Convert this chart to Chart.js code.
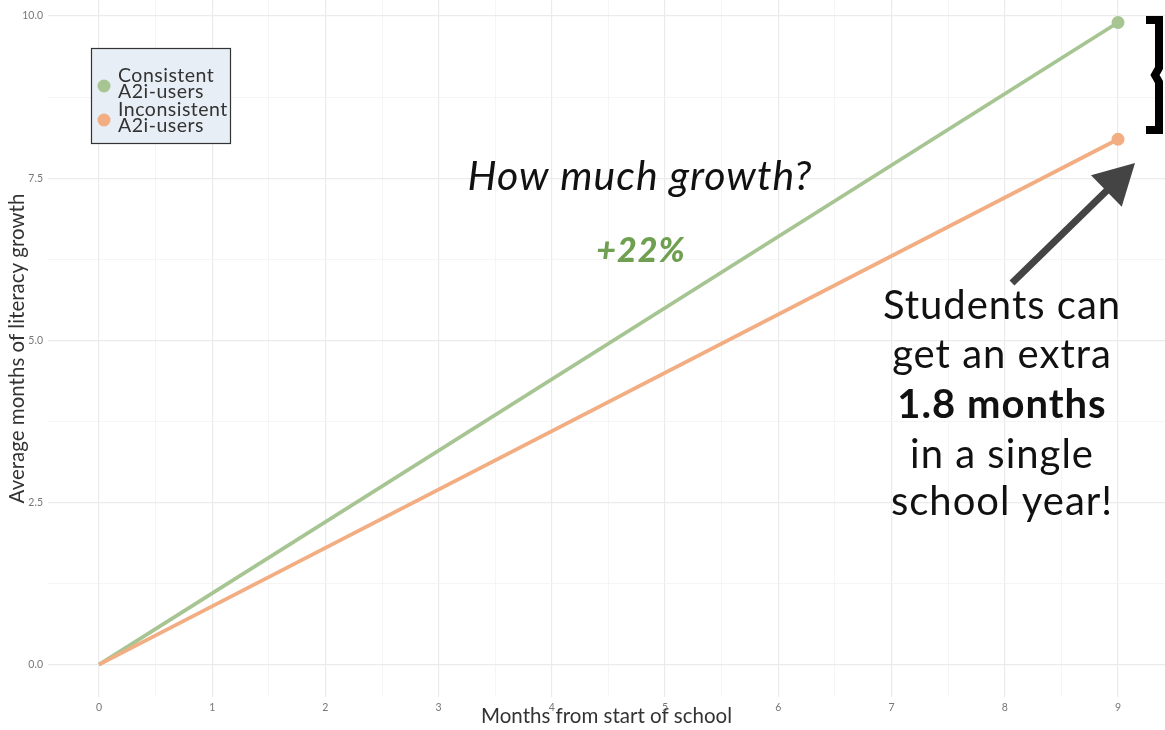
<!DOCTYPE html>
<html><head><meta charset="utf-8">
<script src="https://cdn.jsdelivr.net/npm/chart.js@4"></script>
<style>html,body{margin:0;padding:0;background:#fff}#wrap{width:1165px;height:730px}</style>
</head><body><div id="wrap"><canvas id="c" width="1165" height="730"></canvas></div>
<script>
const months = [0, 9];
const consistent = [0, 9.9];
const inconsistent = [0, 8.1];
const seriesLabels = [["Consistent", "A2i-users"], ["Inconsistent", "A2i-users"]];
const xTicks = [0, 1, 2, 3, 4, 5, 6, 7, 8, 9];
const xMinorTicks = [0.5, 1.5, 2.5, 3.5, 4.5, 5.5, 6.5, 7.5, 8.5];
const yTicks = [0, 2.5, 5, 7.5, 10];
const yTickLabels = ["0.0", "2.5", "5.0", "7.5", "10.0"];
const yMinorTicks = [1.25, 3.75, 6.25, 8.75];

const GREEN = '#a7c592';
const ORANGE = '#f2ae82';
const FONT = 'Lato, "Open Sans", sans-serif';

function pts(ys){ return months.map((m,i)=>({x:m,y:ys[i]})); }
function noPad(s){ s.paddingTop = 0; s.paddingBottom = 0; s.paddingLeft = 0; s.paddingRight = 0; }

const annot = {
  id: 'annot',
  afterDraw(chart){
    const ctx = chart.ctx;
    ctx.save();
    // legend
    ctx.fillStyle = '#e8eef5';
    ctx.fillRect(91.5, 48.5, 139, 95);
    ctx.strokeStyle = '#333';
    ctx.lineWidth = 1.2;
    ctx.strokeRect(91.5, 48.5, 139, 95);
    const cols = [GREEN, ORANGE];
    const ys = [84, 118];
    ctx.font = '19.5px ' + FONT;
    ctx.letterSpacing = '0.5px';
    ctx.textBaseline = 'middle';
    ctx.textAlign = 'left';
    seriesLabels.forEach((lab, i) => {
      ctx.fillStyle = cols[i];
      ctx.beginPath(); ctx.arc(104, ys[i]+2, 6.5, 0, Math.PI*2); ctx.fill();
      ctx.fillStyle = '#333';
      ctx.fillText(lab[0], 118, ys[i]-8);
      ctx.fillText(lab[1], 118, ys[i]+8);
    });
    // question
    ctx.textAlign = 'center';
    ctx.fillStyle = '#111';
    ctx.letterSpacing = '1px';
    ctx.font = 'italic 41px ' + FONT;
    ctx.fillText('How much growth?', 640, 177);
    ctx.fillStyle = '#6fa051';
    ctx.font = 'italic 900 34px ' + FONT;
    ctx.fillText('+22%', 641, 251);
    // students text
    ctx.fillStyle = '#111';
    const lines = ['Students can', 'get an extra', '1.8 months', 'in a single', 'school year!'];
    const ly = [306, 355, 405, 455, 502];
    lines.forEach((t, i) => {
      ctx.font = (i === 2 ? 'bold ' : '') + '40px ' + FONT;
      ctx.fillText(t, 1002, ly[i]);
    });
    ctx.letterSpacing = '0px';
    // arrow
    const x0 = 1012, y0 = 283, x1 = 1135, y1 = 163;
    const ang = Math.atan2(y1 - y0, x1 - x0);
    const hl = 40, hw = 22;
    const bx = x1 - hl*Math.cos(ang), by = y1 - hl*Math.sin(ang);
    ctx.strokeStyle = '#444'; ctx.fillStyle = '#444';
    ctx.lineWidth = 7;
    ctx.beginPath(); ctx.moveTo(x0, y0); ctx.lineTo(bx + 5*Math.cos(ang), by + 5*Math.sin(ang)); ctx.stroke();
    ctx.beginPath();
    ctx.moveTo(x1, y1);
    ctx.lineTo(bx + hw*Math.sin(ang), by - hw*Math.cos(ang));
    ctx.lineTo(bx - hw*Math.sin(ang), by + hw*Math.cos(ang));
    ctx.closePath(); ctx.fill();
    // bracket
    ctx.strokeStyle = '#000';
    ctx.lineWidth = 8;
    ctx.lineJoin = 'miter';
    ctx.beginPath();
    ctx.moveTo(1146, 20);
    ctx.lineTo(1159, 20);
    ctx.lineTo(1159, 68);
    ctx.lineTo(1155, 75);
    ctx.lineTo(1159, 82);
    ctx.lineTo(1159, 130);
    ctx.lineTo(1146, 130);
    ctx.stroke();
    ctx.restore();
  }
};

new Chart(document.getElementById('c'), {
  type: 'line',
  data: {
    datasets: [
      { label: seriesLabels[0].join(' '), data: pts(consistent), borderColor: GREEN, backgroundColor: GREEN,
        borderWidth: 3.8, pointRadius: [0, 6.5], pointBackgroundColor: GREEN, pointBorderWidth: 0, order: 2, clip: false },
      { label: seriesLabels[1].join(' '), data: pts(inconsistent), borderColor: ORANGE, backgroundColor: ORANGE,
        borderWidth: 3.8, pointRadius: [0, 6.5], pointBackgroundColor: ORANGE, pointBorderWidth: 0, order: 1, clip: false }
    ]
  },
  options: {
    responsive: false, animation: false, devicePixelRatio: 1,
    layout: { padding: 0, autoPadding: false },
    plugins: { legend: { display: false }, tooltip: { enabled: false } },
    scales: {
      x: {
        type: 'linear', min: -0.45, max: 9.415,
        afterBuildTicks(s){ s.ticks = [...xTicks, ...xMinorTicks].sort((a,b)=>a-b).map(v=>({value:v})); },
        afterFit(s){ s.height = 33; noPad(s); },
        grid: { drawTicks: false,
          color: c => xTicks.includes(c.tick && c.tick.value) ? '#ebebeb' : '#f3f3f3',
          lineWidth: c => xTicks.includes(c.tick && c.tick.value) ? 1.2 : 0.8 },
        border: { display: false },
        ticks: { autoSkip: false, maxRotation: 0, padding: 4, color: '#777', font: { family: FONT, size: 10.5 },
          callback: v => xTicks.includes(v) ? String(v) : '' },
        title: { display: true, text: 'Months from start of school', color: '#333',
          font: { family: FONT, size: 20.5 }, padding: { top: 0, bottom: 1 } }
      },
      y: {
        type: 'linear', min: -0.5, max: 10.247,
        afterBuildTicks(s){ s.ticks = [...yTicks, ...yMinorTicks].sort((a,b)=>a-b).map(v=>({value:v})); },
        afterFit(s){ s.width = 48; noPad(s); },
        grid: { drawTicks: false,
          color: c => yTicks.includes(c.tick && c.tick.value) ? '#ebebeb' : '#f3f3f3',
          lineWidth: c => yTicks.includes(c.tick && c.tick.value) ? 1.2 : 0.8 },
        border: { display: false },
        ticks: { autoSkip: false, padding: 5, color: '#777', font: { family: FONT, size: 10.5 },
          callback: v => { const i = yTicks.indexOf(v); return i >= 0 ? yTickLabels[i] : ''; } },
        title: { display: true, text: 'Average months of literacy growth', color: '#333',
          font: { family: FONT, size: 20.5 }, padding: { top: 5, bottom: 0 } }
      }
    }
  },
  plugins: [annot]
});
</script>
</body></html>
